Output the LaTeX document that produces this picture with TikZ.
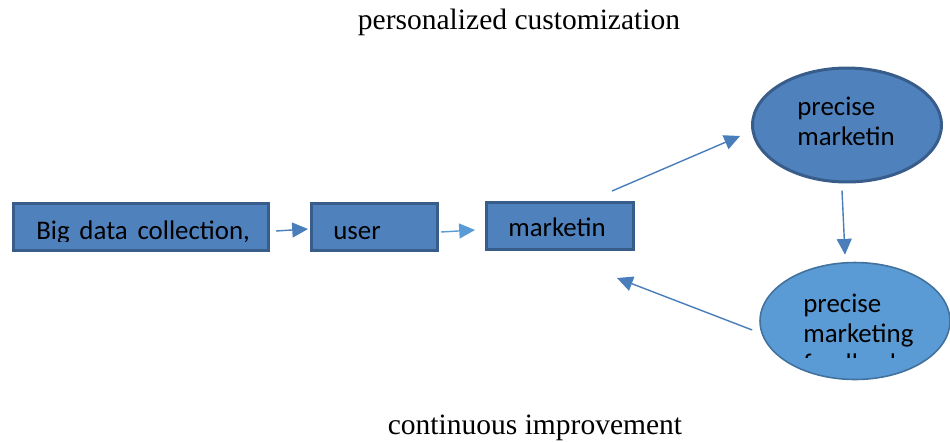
\documentclass[tikz,border=0pt]{standalone}
\usepackage{fontspec}
\setmainfont{Liberation Serif}
\newfontfamily\boxfont[WordSpace=1.6]{Carlito}
\usetikzlibrary{shapes.geometric,arrows.meta,calc}
\definecolor{boxfill}{HTML}{4F81BD}
\definecolor{boxline}{HTML}{385D8A}
\definecolor{lightfill}{HTML}{5B9BD5}
\definecolor{lightline}{HTML}{41719C}
\definecolor{arrowcol}{HTML}{4A7EBB}
\tikzset{
  box/.style={draw=boxline, fill=boxfill, line width=1.7pt, inner sep=0pt},
  ell/.style={ellipse, draw=boxline, fill=boxfill, line width=1.7pt, inner sep=0pt},
  lightell/.style={ellipse, draw=lightline, fill=lightfill, line width=0.9pt, inner sep=0pt},
  lbl/.style={font=\boxfont\fontsize{15.3}{17}\selectfont, anchor=base west, inner sep=0pt, align=left},
  title/.style={font=\fontsize{16.8}{20}\selectfont, anchor=base, inner sep=0pt},
  arr/.style={draw=arrowcol, line width=0.8pt, -{Triangle[length=9pt,width=8.5pt]}}
}
\begin{document}
\begin{tikzpicture}[x=0.02cm,y=-0.02cm]
  \useasboundingbox (0,0) rectangle (950,441);

  % headings
  \node[title] (top) at (519,29) {personalized customization};
  \node[title] (bottom) at (535,434) {continuous improvement};

  % boxes and ellipses
  \node[box, minimum width=5.1cm, minimum height=0.94cm] (collect) at (141,227) {};
  \node[box, minimum width=2.52cm, minimum height=0.94cm] (user) at (374.5,227) {};
  \node[box, minimum width=2.94cm, minimum height=0.94cm] (mkt) at (560,226) {};
  \node[ell, minimum width=3.78cm, minimum height=2.28cm] (precise) at (847,125) {};
  \node[lightell, minimum width=3.8cm, minimum height=2.34cm] (feedback) at (855,321) {};

  % texts, cut off at the bottom
  \begin{scope}
    \clip (12,202) rectangle (270,241);
    \node[lbl] (collecttxt) at (36,239) {Big data collection,};
  \end{scope}
  \node[lbl] (usertxt) at (333,239) {user};
  \node[lbl] (mkttxt) at (508,236) {marketin};
  \node[lbl] (precisetxt) at (797,115) {precise};
  \node[lbl] (precisetxt2) at (797,145) {marketin};
  \begin{scope}
    \clip (759,262) rectangle (950,357);
    \node[lbl] (fbtxt) at (803,312) {precise};
    \node[lbl] (fbtxt2) at (803,342) {marketing};
    \node[lbl] (fbtxt3) at (803,372) {feedback};
  \end{scope}

  % arrows
  \draw[arr] ($(collect.east)+(6,4)$) -- ($(user.west)+(-2,2)$);
  \draw[arr, draw=lightfill] ($(user.east)+(2,5)$) -- ($(mkt.west)+(-10,4)$);
  \draw[arr] ($(mkt.north east)+(-23,-10)$) -- ($(precise.west)+(-11,11)$);
  \draw[arr] ($(precise.south)+(-5,7)$) -- ($(feedback.north)+(-10,-7)$);
  \draw[arr] ($(feedback.west)+(-7,9)$) -- ($(mkt.south east)+(-18,27)$);
\end{tikzpicture}
\end{document}
